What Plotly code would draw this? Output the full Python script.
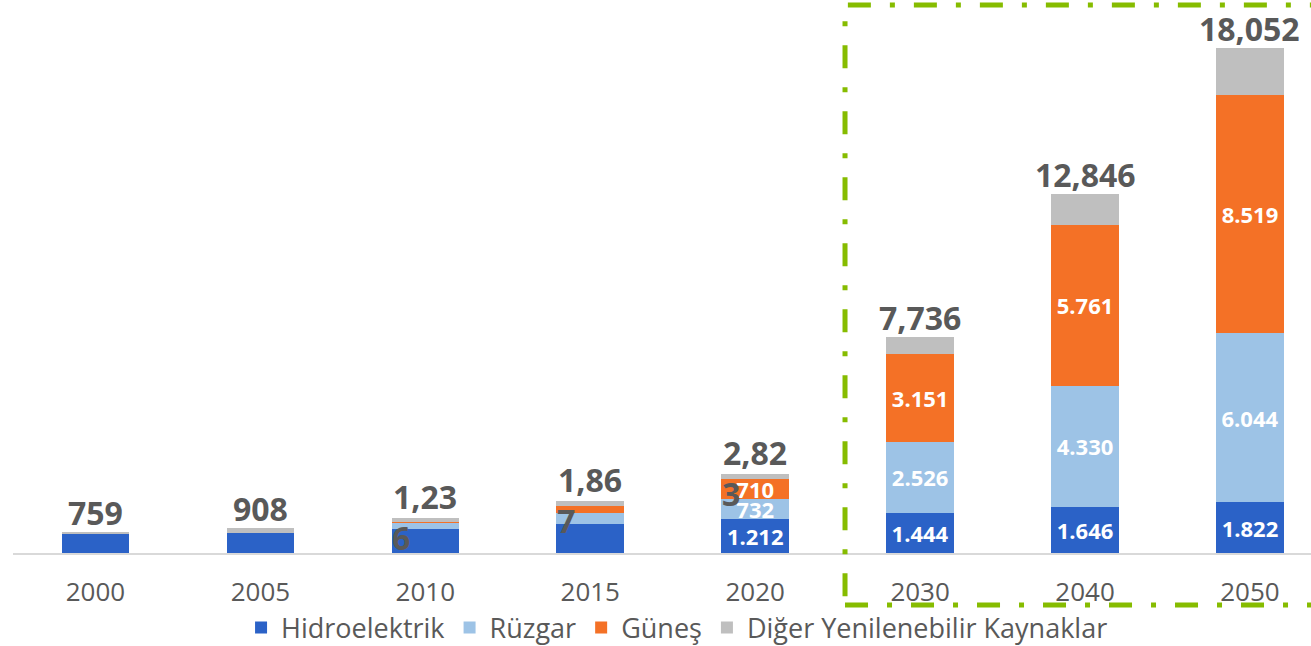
import plotly.graph_objects as go

years = ["2000", "2005", "2010", "2015", "2020", "2030", "2040", "2050"]
hydro = [680, 730, 860, 1020, 1212, 1444, 1646, 1822]
wind = [0, 0, 220, 425, 732, 2526, 4330, 6044]
solar = [0, 0, 15, 240, 710, 3151, 5761, 8519]
other = [79, 178, 141, 182, 169, 615, 1109, 1667]
totals = [759, 908, 1236, 1867, 2823, 7736, 12846, 18052]
labeled = [False, False, False, False, True, True, True, True]
wrapped = [False, False, True, True, True, False, False, False]

names = ["Hidroelektrik", "Rüzgar", "Güneş", "Diğer Yenilenebilir Kaynaklar"]
colors = ["#2B62C7", "#9DC3E6", "#F47126", "#BFBFBF"]
series = [hydro, wind, solar, other]
show_labels = [True, True, True, False]

FONT = "Open Sans"
GRAY = "#595959"

def fmt_dot(v):
    return f"{v:,}".replace(",", ".")

fig = go.Figure()
for name, col, vals, sl in zip(names, colors, series, show_labels):
    text = [fmt_dot(v) if (sl and lab) else "" for v, lab in zip(vals, labeled)]
    fig.add_trace(go.Bar(
        x=list(range(len(years))), y=vals, name=name,
        marker=dict(color=col, line=dict(width=0)),
        width=0.41,
        text=text, textposition="inside", insidetextanchor="middle",
        textfont=dict(family=FONT, size=22, color="white", weight="bold"),
        textangle=0, cliponaxis=False, hoverinfo="skip",
    ))

annotations = []
for i, (t, w) in enumerate(zip(totals, wrapped)):
    s = f"{t:,}"
    if w:
        annotations.append(dict(x=i, y=t, xref="x", yref="y", text=s[:-1],
                                showarrow=False, yanchor="bottom", yshift=-2,
                                font=dict(family=FONT, size=32, color=GRAY, weight="bold")))
        annotations.append(dict(x=i - 0.215, y=t, xref="x", yref="y", text=s[-1],
                                showarrow=False, yanchor="top", xanchor="left", yshift=4,
                                font=dict(family=FONT, size=32, color=GRAY, weight="bold")))
    else:
        annotations.append(dict(x=i, y=t, xref="x", yref="y", text=s,
                                showarrow=False, yanchor="bottom", yshift=-4,
                                font=dict(family=FONT, size=32, color=GRAY, weight="bold")))

fig.update_layout(
    barmode="stack",
    width=1311, height=646,
    margin=dict(l=13, r=0, t=10, b=93, autoexpand=False),
    paper_bgcolor="white", plot_bgcolor="white",
    showlegend=True,
    legend=dict(orientation="h", x=0.5116, xanchor="center", y=-0.138, yanchor="middle",
                font=dict(family=FONT, size=27, color=GRAY), traceorder="normal",
                bgcolor="rgba(0,0,0,0)", itemwidth=30),
    xaxis=dict(range=[-0.5, 7.37], tickmode="array", tickvals=list(range(len(years))),
               ticktext=years, showgrid=False, zeroline=False, automargin=False,
               showline=True, linecolor="#D9D9D9", linewidth=2,
               ticks="", tickfont=dict(family=FONT, size=26, color=GRAY), ticklabelstandoff=15),
    yaxis=dict(range=[0, 19413], visible=False, showgrid=False, automargin=False),
    annotations=annotations,
    shapes=[dict(type="rect", xref="paper", yref="paper", x0=0.641, x1=1.03,
                 y0=-0.0958, y1=1.0092,
                 line=dict(color="#86BC00", width=5, dash="23px,19px,5px,19px"),
                 fillcolor="rgba(0,0,0,0)")],
    uniformtext=dict(minsize=22, mode="show"),
)

fig.write_html("out.html", config={"displayModeBar": False},
               post_script="document.body.style.margin='0';document.body.style.overflow='hidden';")
